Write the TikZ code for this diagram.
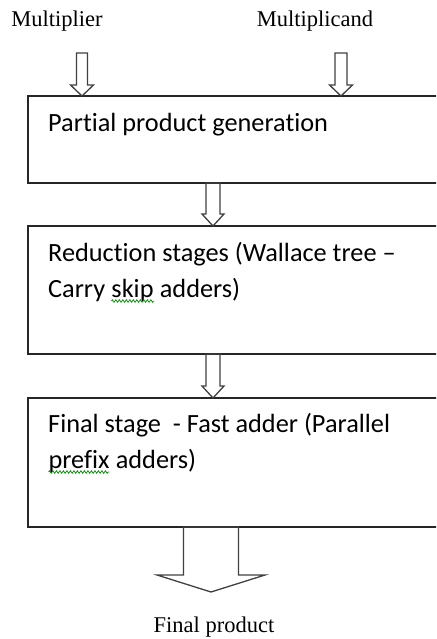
\documentclass[tikz,border=0pt]{standalone}
\usepackage{fontspec}
\setmainfont{Liberation Serif}
\newfontfamily\calibrifont[Ligatures=NoCommon]{Carlito}
\usetikzlibrary{calc,decorations.pathmorphing}

\newcommand{\hollowarrow}[5]{%
	\draw[harrow] let \p1=(#1), \p2=(#2) in
		(\x1-#3,\y1) -- (\x1-#3,\y2+#5) -- (\x1-#4,\y2+#5) -- (\x1,\y2)
		-- (\x1+#4,\y2+#5) -- (\x1+#3,\y2+#5) -- (\x1+#3,\y1) -- cycle;
}
\newcommand{\typo}[1]{\tikz[baseline=(w.base)]{\node[inner sep=0pt, outer sep=0pt] (w) {#1};
	\draw[typoline] ([yshift=-4pt]w.base west) -- ([yshift=-4pt]w.base east);}}

\begin{document}
\begin{tikzpicture}[x=1pt, y=-1pt]
		\tikzset{stage/.style={draw=black!85, line width=1.5pt, anchor=north west, minimum width=430pt, outer sep=0pt, inner sep=0pt},
			stagetext/.style={anchor=base west, inner sep=0pt, font=\calibrifont\fontsize{26.3}{36}\selectfont},
			label/.style={anchor=base, inner sep=0pt, font=\fontsize{22.5}{26}\selectfont},
			harrow/.style={draw=black!75, line width=1.3pt, line join=miter},
			typoline/.style={draw=green!55!black, line width=0.7pt, decorate, decoration={zigzag, amplitude=1.3pt, segment length=3.5pt}}};

		\useasboundingbox (0,0) rectangle (436,639);
		\clip (0,0) rectangle (436,639);

		\node[label] (mlr) at (57,27) {Multiplier};
		\node[label] (mcd) at (315,27) {Multiplicand};

		\node[stage, minimum height=87pt] (box1) at (28,96) {};
		\node[stage, minimum height=128pt] (box2) at (28,226) {};
		\node[stage, minimum height=129pt] (box3) at (28,398) {};

		\node[stagetext] (t1) at ($(box1.north west)+(20,36)$) {Partial product generation};
		\node[stagetext] (t2a) at ($(box2.north west)+(20,35)$) {Reduction stages (Wallace tree –};
		\node[stagetext] (t2b) at ($(t2a.base west)+(0,36)$) {Carry \typo{skip} adders)};
		\node[stagetext] (t3a) at ($(box3.north west)+(20,34)$) {Final stage\ \ - Fast adder (Parallel};
		\node[stagetext] (t3b) at ($(t3a.base west)+(0,36)$) {\typo{prefix} adders)};

		\node[label] (fp) at (214,632) {Final product};

		\coordinate (a1) at (82,53);
		\coordinate (a2) at (341,53);
		\coordinate (a3) at (box1.south -| 213,0);
		\coordinate (a4) at (box2.south -| 213,0);
		\coordinate (a5) at (box3.south -| 211,0);
		\coordinate (a5tip) at (211,592);

		\hollowarrow{a1}{box1.north -| a1}{5.5pt}{11.5pt}{11pt}
		\hollowarrow{a2}{box1.north -| a2}{6pt}{11.5pt}{11pt}
		\hollowarrow{a3}{box2.north -| a3}{7pt}{11pt}{12pt}
		\hollowarrow{a4}{box3.north -| a4}{7pt}{11pt}{12pt}
		\hollowarrow{a5}{a5tip}{27.5pt}{54pt}{17pt}
	\end{tikzpicture}
\end{document}
